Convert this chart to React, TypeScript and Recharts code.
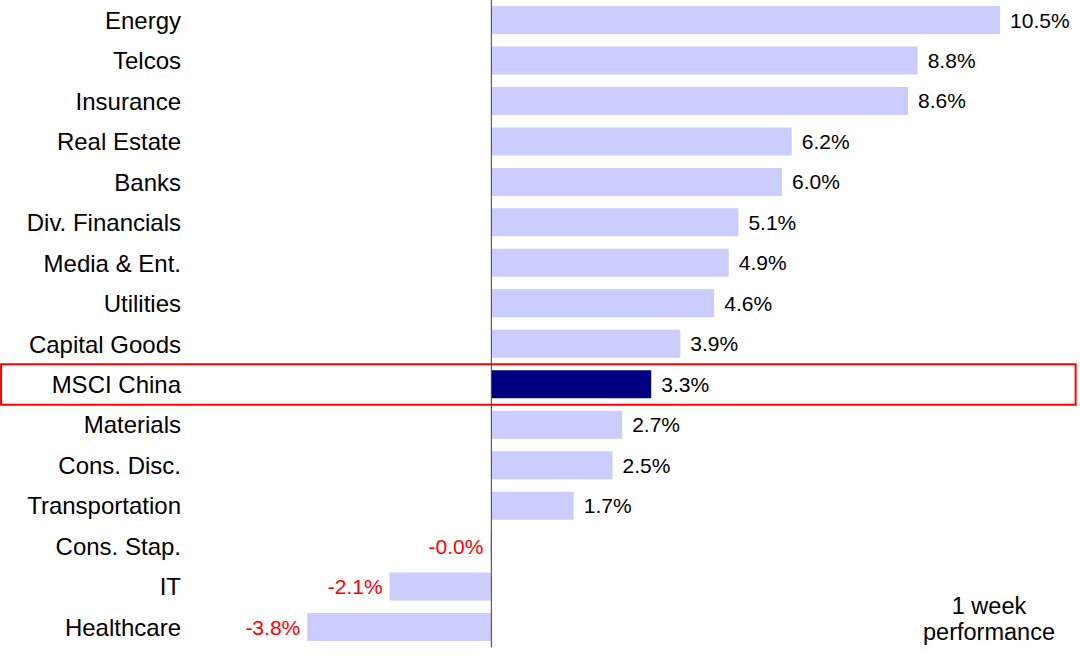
import React from "react";
import {
  BarChart,
  Bar,
  XAxis,
  YAxis,
  Cell,
  LabelList,
  ReferenceLine,
  ReferenceArea,
} from "recharts";

const categories = [
  "Energy",
  "Telcos",
  "Insurance",
  "Real Estate",
  "Banks",
  "Div. Financials",
  "Media & Ent.",
  "Utilities",
  "Capital Goods",
  "MSCI China",
  "Materials",
  "Cons. Disc.",
  "Transportation",
  "Cons. Stap.",
  "IT",
  "Healthcare",
];

const weekPerformance = [
  10.5, 8.8, 8.6, 6.2, 6.0, 5.1, 4.9, 4.6, 3.9, 3.3, 2.7, 2.5, 1.7, -0.02, -2.1,
  -3.8,
];

const highlightCategory = "MSCI China";
const noteLines = ["1 week", "performance"];

const data = categories.map((name, i) => ({ name, value: weekPerformance[i] }));

const FONT = "'Liberation Sans', Arial, sans-serif";

const ValueLabel = (props: any) => {
  const { x, y, width, height, value } = props;
  const v = Number(value);
  const end = Number(x) + Number(width);
  const cy = Number(y) + Number(height) / 2;
  const neg = v < 0;
  return (
    <text
      x={neg ? Math.min(end, Number(x)) - 7 : end + 10}
      y={cy}
      textAnchor={neg ? "end" : "start"}
      dominantBaseline="central"
      fontSize={21}
      fontFamily={FONT}
      fill={neg ? "#ff0000" : "#000000"}
    >
      {v.toFixed(1) + "%"}
    </text>
  );
};

export default function App() {
  return (
    <div
      style={{
        position: "absolute",
        left: 0,
        top: 0,
        width: 1080,
        height: 662,
        background: "#ffffff",
        fontFamily: FONT,
      }}
    >
      <BarChart
        width={1080}
        height={662}
        data={data}
        layout="vertical"
        margin={{ top: 0, right: 31.5, bottom: 14.5, left: 0 }}
        barSize={28}
      >
        <XAxis type="number" domain={[-6.22, 11.5]} hide allowDataOverflow />
        <YAxis
          type="category"
          dataKey="name"
          width={190}
          axisLine={false}
          tickLine={false}
          tickSize={0}
          tickMargin={9}
          interval={0}
          tick={{ fill: "#000000", fontSize: 24, fontFamily: FONT }}
        />
        <Bar dataKey="value" isAnimationActive={false}>
          {data.map((d) => (
            <Cell
              key={d.name}
              fill={d.name === highlightCategory ? "#000080" : "#ccccff"}
            />
          ))}
          <LabelList dataKey="value" content={ValueLabel} />
        </Bar>
        <ReferenceLine x={0} stroke="#404040" strokeWidth={1} />
        <ReferenceArea
          y1={highlightCategory}
          y2={highlightCategory}
          x1={-10.12}
          x2={12.06}
          ifOverflow="visible"
          fill="none"
          fillOpacity={0}
          stroke="#ff0000"
          strokeWidth={2}
        />
      </BarChart>
      <div
        style={{
          position: "absolute",
          left: 889,
          top: 593,
          width: 200,
          textAlign: "center",
          fontSize: 23.5,
          lineHeight: "26px",
          color: "#000000",
        }}
      >
        {noteLines.map((l) => (
          <div key={l}>{l}</div>
        ))}
      </div>
    </div>
  );
}
